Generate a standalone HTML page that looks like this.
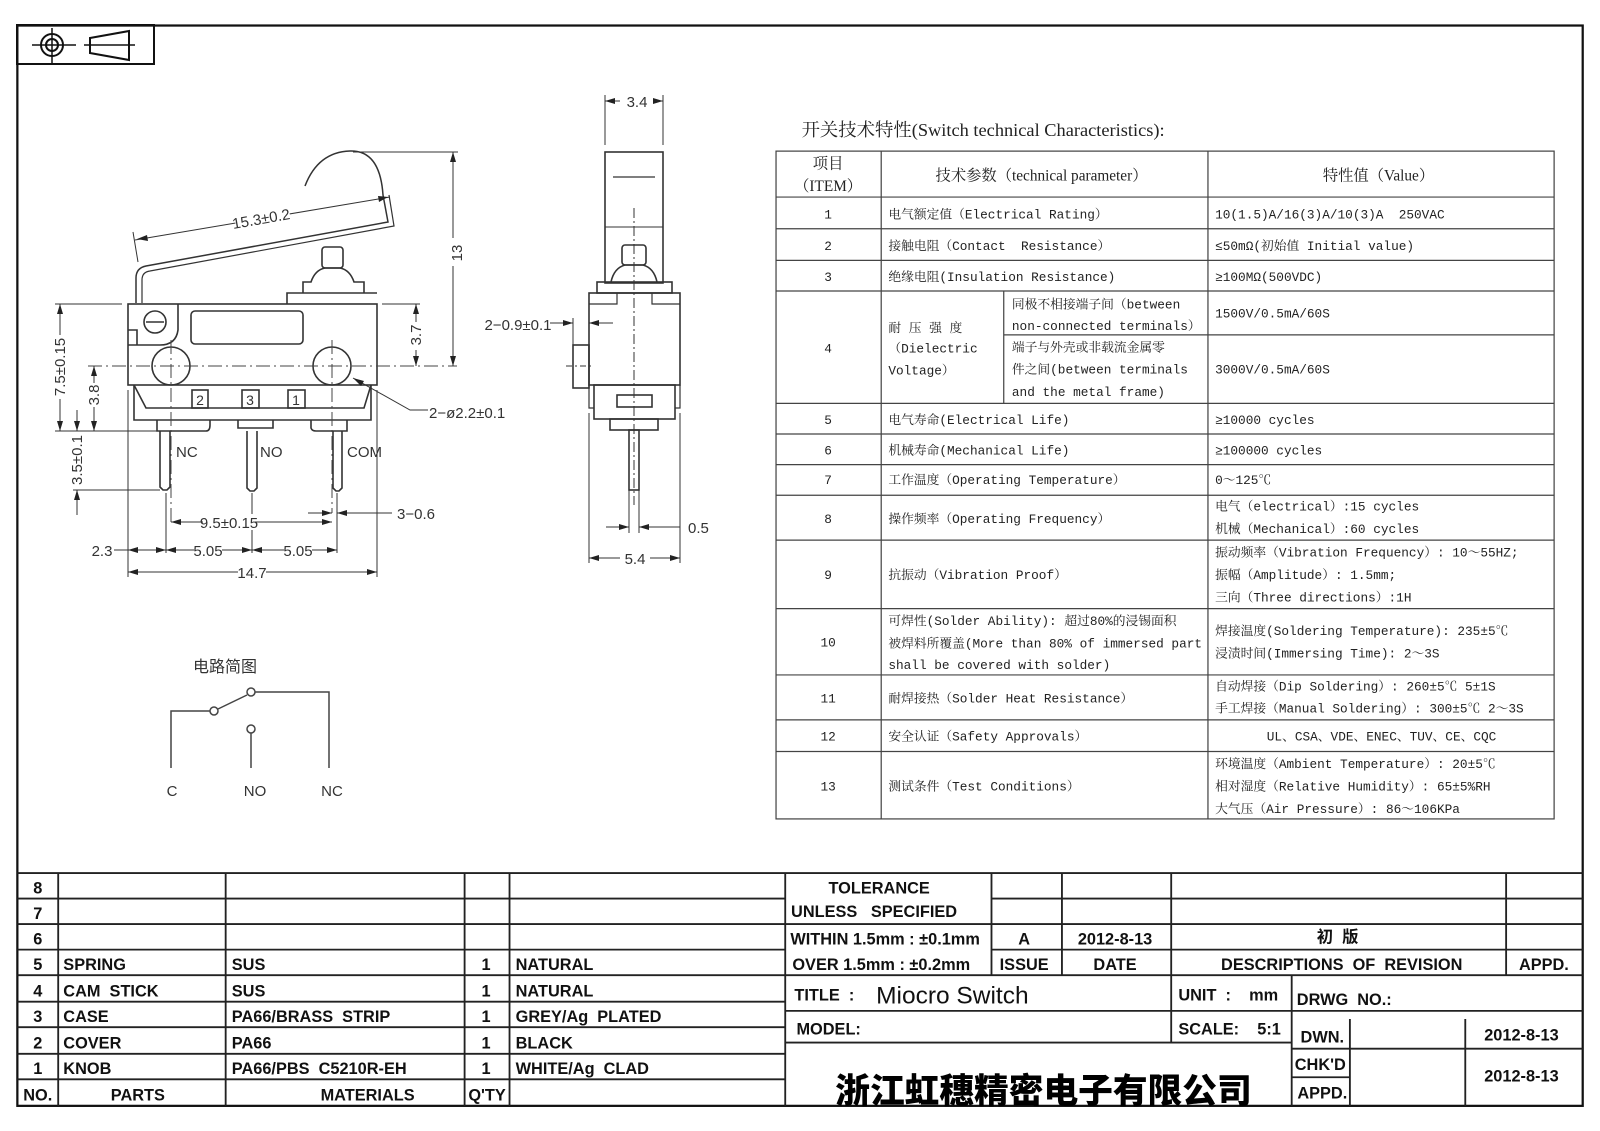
<!DOCTYPE html>
<html><head><meta charset="utf-8"><style>
html,body{margin:0;padding:0;background:#fff;}
svg{display:block}
text{white-space:pre}
.t{font-family:"Liberation Mono","Noto Serif CJK SC",monospace;font-size:12.5px;fill:#222}
.b{font-family:"Liberation Sans Narrow","Liberation Sans","Noto Sans CJK SC",sans-serif;font-weight:bold;font-size:16px;fill:#111}
.d{font-family:"Liberation Sans Narrow","Liberation Sans",sans-serif;font-size:15px;fill:#333}
</style></head><body>
<svg width="1600" height="1131" viewBox="0 0 1600 1131" xmlns="http://www.w3.org/2000/svg" xml:space="preserve">
<rect width="1600" height="1131" fill="#fff"/>
<g stroke="#111" stroke-width="2" fill="none">
<rect x="17" y="25" width="137" height="39"/>
<circle cx="52" cy="45" r="11"/><circle cx="52" cy="45" r="6"/>
<line x1="32" y1="45" x2="76" y2="45" stroke-width="1.5"/><line x1="52" y1="28" x2="52" y2="63" stroke-width="1.5"/>
<path d="M90 38 L129 31 L129 60 L90 53 Z"/><line x1="84" y1="45" x2="135" y2="45" stroke-width="1.5"/>
</g>
<g stroke="#444" stroke-width="1.5" fill="none">
<path d="M171 768 V711 H210"/><circle cx="214" cy="711" r="4"/>
<line x1="218" y1="709" x2="247" y2="695"/><circle cx="251" cy="692" r="4"/>
<path d="M255 692 H329 V768"/><circle cx="251" cy="729" r="4"/><line x1="251" y1="733" x2="251" y2="768"/>
</g>
<g class="d" text-anchor="middle"><text x="225" y="672" style="font-family:'Noto Sans CJK SC',sans-serif;font-size:16px">电路简图</text>
<text x="172" y="796">C</text><text x="255" y="796">NO</text><text x="332" y="796">NC</text></g>

<g stroke="#333" stroke-width="1.6" fill="none">
<path d="M136 303 V278 Q136 268 146 266 L388 222 L383 195 Q380 150 350 151 Q318 152 305 186" stroke-width="1.5"/>
<path d="M142 303 V280 Q142 272 150 271 L394 226 L389 195" stroke-width="1.2"/>
<rect x="322" y="247" width="21" height="21" rx="3"/>
<path d="M303 293 V282 H311 Q315 270 325 268 H340 Q350 270 354 282 H364 V293"/>
<path d="M287 304 V293 H377"/>
<rect x="128" y="304" width="249" height="81"/>
<path d="M128 330 H137 V345"/>
<path d="M178 304 V330 Q176 345 160 345 H128"/>
<circle cx="155" cy="322" r="11"/><line x1="146" y1="322" x2="164" y2="322"/>
<rect x="191" y="311" width="112" height="33" rx="4"/>
<circle cx="171" cy="366" r="19"/><circle cx="332" cy="366" r="19"/>
<path d="M134 385 V420 H371 V385"/>
<path d="M134 385 L146 408 H364 L371 385"/>
<rect x="192" y="390" width="16" height="18"/><rect x="242" y="390" width="17" height="18"/><rect x="288" y="390" width="17" height="18"/>
<path d="M157 420 V431 H206 Q210 431 210 425 V420"/>
<path d="M238 420 V428 H273 V420"/>
<path d="M311 420 V428 Q312 431 316 431 H347 V420"/>
<path d="M160 431 V487 L163 490 H167 L170 487 V431"/>
<path d="M247 431 V488 L250 491 H254 L257 488 V431"/>
<path d="M333 431 V488 L336 491 H339 L342 488 V431"/>
</g>
<g class="d" text-anchor="middle" style="font-size:14px"><text x="200" y="405">2</text><text x="250" y="405">3</text><text x="296" y="405">1</text></g>
<g stroke="#444" stroke-width="1" fill="none" stroke-dasharray="14,4,2,4">
<line x1="88" y1="366" x2="457" y2="366"/><line x1="171" y1="340" x2="171" y2="523"/><line x1="332" y1="340" x2="332" y2="513"/>
</g>
<g stroke="#333" stroke-width="1" fill="none">
<line x1="353" y1="152" x2="458" y2="152"/><line x1="453" y1="152" x2="453" y2="366"/>
<line x1="55" y1="304" x2="122" y2="304"/><line x1="382" y1="304" x2="420" y2="304"/>
<line x1="416" y1="304" x2="416" y2="366"/>
<line x1="60" y1="304" x2="60" y2="431"/><line x1="94" y1="366" x2="94" y2="431"/>
<line x1="55" y1="431" x2="157" y2="431"/><line x1="73" y1="490" x2="160" y2="490"/>
<line x1="77" y1="410" x2="77" y2="431"/><line x1="77" y1="490" x2="77" y2="515"/>
<line x1="128" y1="390" x2="128" y2="577"/><line x1="377" y1="390" x2="377" y2="577"/>
<line x1="166" y1="493" x2="166" y2="553"/><line x1="252" y1="493" x2="252" y2="553"/><line x1="337" y1="493" x2="337" y2="553"/>
<line x1="171" y1="522" x2="332" y2="522"/>
<line x1="308" y1="513" x2="332" y2="513"/><line x1="337" y1="513" x2="392" y2="513"/>
<line x1="114" y1="550" x2="337" y2="550"/>
<line x1="128" y1="572" x2="377" y2="572"/>
<line x1="135" y1="240" x2="390" y2="197"/><line x1="133" y1="232" x2="138" y2="262"/>
<path d="M353 378 L410 410 H428"/>
</g>
<g fill="#222">
<path d="M453 152 l-3 10 h6z"/><path d="M453 366 l-3 -10 h6z"/>
<path d="M416 304 l-3 10 h6z"/><path d="M416 366 l-3 -10 h6z"/>
<path d="M60 304 l-3 10 h6z"/><path d="M60 431 l-3 -10 h6z"/>
<path d="M94 366 l-3 10 h6z"/><path d="M94 431 l-3 -10 h6z"/>
<path d="M77 431 l-3 -10 h6z"/><path d="M77 490 l-3 10 h6z"/>
<path d="M171 522 l10 -3 v6z"/><path d="M332 522 l-10 -3 v6z"/>
<path d="M332 513 l-10 -3 v6z"/><path d="M337 513 l10 -3 v6z"/>
<path d="M128 550 l10 -3 v6z"/><path d="M166 550 l-10 -3 v6z"/><path d="M166 550 l10 -3 v6z"/>
<path d="M252 550 l-10 -3 v6z"/><path d="M252 550 l10 -3 v6z"/><path d="M337 550 l-10 -3 v6z"/>
<path d="M128 572 l10 -3 v6z"/><path d="M377 572 l-10 -3 v6z"/>
<path d="M137 239 l10 -4 l1 6z"/><path d="M388 197 l-10 -1 l1 6z"/>
<path d="M353 378 l8 8 l3 -5z"/>
</g>
<g class="d">
<rect x="440" y="238" width="20" height="28" fill="#fff"/>
<text transform="translate(462,253) rotate(-90)" text-anchor="middle">13</text>
<rect x="405" y="322" width="20" height="28" fill="#fff"/>
<text transform="translate(421,335) rotate(-90)" text-anchor="middle">3.7</text>
<rect x="50" y="335" width="20" height="64" fill="#fff"/>
<text transform="translate(65,367) rotate(-90)" text-anchor="middle">7.5±0.15</text>
<rect x="85" y="383" width="20" height="24" fill="#fff"/>
<text transform="translate(99,395) rotate(-90)" text-anchor="middle">3.8</text>
<rect x="68" y="440" width="20" height="40" fill="#fff"/>
<text transform="translate(82,460) rotate(-90)" text-anchor="middle">3.5±0.1</text>
<rect x="235" y="208" width="55" height="20" fill="#fff" transform="rotate(-10 262 218)"/>
<text transform="translate(262,224) rotate(-10)" text-anchor="middle">15.3±0.2</text>
<text x="176" y="457" style="font-family:'Liberation Sans',sans-serif">NC</text>
<text x="260" y="457" style="font-family:'Liberation Sans',sans-serif">NO</text>
<text x="347" y="457" style="font-family:'Liberation Sans',sans-serif">COM</text>
<text x="429" y="418">2−ø2.2±0.1</text>
<rect x="203" y="514" width="52" height="16" fill="#fff"/><text x="229" y="528" text-anchor="middle">9.5±0.15</text>
<text x="397" y="519">3−0.6</text>
<text x="102" y="556" text-anchor="middle">2.3</text>
<rect x="194" y="542" width="28" height="16" fill="#fff"/><text x="208" y="556" text-anchor="middle">5.05</text>
<rect x="284" y="542" width="28" height="16" fill="#fff"/><text x="298" y="556" text-anchor="middle">5.05</text>
<rect x="238" y="564" width="28" height="16" fill="#fff"/><text x="252" y="578" text-anchor="middle">14.7</text>
</g>

<g stroke="#333" stroke-width="1.6" fill="none">
<rect x="605" y="152" width="58" height="131"/>
<line x1="613" y1="177" x2="655" y2="177" stroke-width="1.2"/>
<line x1="605" y1="227" x2="663" y2="227" stroke-width="1"/>
<rect x="622" y="245" width="24" height="20" rx="3"/>
<path d="M611 282 Q614 268 625 265 H643 Q654 268 657 282"/>
<rect x="597" y="282" width="75" height="11"/>
<rect x="589" y="293" width="91" height="92"/>
<path d="M589 304 H617 V293 M680 304 H652 V293" stroke-width="1.2"/>
<rect x="573" y="345" width="16" height="43"/>
<rect x="594" y="385" width="81" height="34"/>
<path d="M589 385 V408 H594 M680 385 V408 H675" stroke-width="1.2"/>
<rect x="617" y="395" width="35" height="12"/>
<rect x="610" y="419" width="48" height="11"/>
<rect x="629" y="430" width="10" height="60"/>
</g>
<g stroke="#333" stroke-width="1" fill="none">
<line x1="634" y1="208" x2="634" y2="505" stroke-dasharray="10,3,2,3"/>
<line x1="566" y1="366" x2="594" y2="366" stroke-dasharray="6,3,2,3"/>
<line x1="605" y1="95" x2="605" y2="145"/><line x1="663" y1="95" x2="663" y2="145"/>
<line x1="605" y1="101" x2="620" y2="101"/><line x1="655" y1="101" x2="663" y2="101"/>
<line x1="550" y1="323" x2="573" y2="323"/><line x1="589" y1="323" x2="613" y2="323"/>
<line x1="573" y1="318" x2="573" y2="345"/>
<line x1="629" y1="490" x2="629" y2="533"/><line x1="639" y1="490" x2="639" y2="533"/>
<line x1="606" y1="527" x2="629" y2="527"/><line x1="639" y1="527" x2="680" y2="527"/>
<line x1="589" y1="413" x2="589" y2="563"/><line x1="680" y1="413" x2="680" y2="563"/>
<line x1="589" y1="558" x2="620" y2="558"/><line x1="650" y1="558" x2="680" y2="558"/>
</g>
<g fill="#222">
<path d="M605 101 l10 -3 v6z"/><path d="M663 101 l-10 -3 v6z"/>
<path d="M573 323 l-10 -3 v6z"/><path d="M589 323 l10 -3 v6z"/>
<path d="M629 527 l-10 -3 v6z"/><path d="M639 527 l10 -3 v6z"/>
<path d="M589 558 l10 -3 v6z"/><path d="M680 558 l-10 -3 v6z"/>
</g>
<g class="d">
<text x="637" y="107" text-anchor="middle">3.4</text>
<text x="518" y="330" text-anchor="middle">2−0.9±0.1</text>
<text x="688" y="533">0.5</text>
<text x="635" y="564" text-anchor="middle">5.4</text>
</g>

<g transform="scale(1.0211)">
<rect x="17" y="25" width="1533" height="1058" fill="none" stroke="#111" stroke-width="2.2"/>
<text x="785" y="133" style="font-family:'Liberation Serif','Noto Serif CJK SC',serif;font-size:18px" fill="#222">开关技术特性(Switch technical Characteristics):</text>
<g stroke="#444" stroke-width="1.2" fill="none">
<rect x="760" y="148" width="762" height="654"/>
<line x1="863" y1="148" x2="863" y2="802"/><line x1="1183" y1="148" x2="1183" y2="802"/>
<line x1="983" y1="285" x2="983" y2="395"/><line x1="983" y1="328" x2="1522" y2="328"/>
<path d="M760 193H1522M760 224H1522M760 255H1522M760 285H1522M760 395H1522M760 425H1522M760 455H1522M760 485H1522M760 529H1522M760 596H1522M760 661H1522M760 705H1522M760 736H1522"/>
</g>
<g class="t">
<g text-anchor="middle" style="font-size:15px;font-family:'Liberation Serif','Noto Serif CJK SC',serif">
<text x="811" y="165">项目</text><text x="811" y="187">（ITEM）</text>
<text x="1020" y="177">技术参数（technical parameter）</text>
<text x="1350" y="177">特性值（Value）</text>
</g>
<g text-anchor="middle">
<text x="811" y="214">1</text><text x="811" y="245">2</text><text x="811" y="275">3</text><text x="811" y="345">4</text>
<text x="811" y="415">5</text><text x="811" y="445">6</text><text x="811" y="474">7</text><text x="811" y="512">8</text>
<text x="811" y="567">9</text><text x="811" y="633">10</text><text x="811" y="688">11</text><text x="811" y="725">12</text><text x="811" y="774">13</text>
</g>
<text x="870" y="214">电气额定值（Electrical Rating）</text>
<text x="870" y="245">接触电阻（Contact  Resistance）</text>
<text x="870" y="275">绝缘电阻(Insulation Resistance)</text>
<text x="870" y="325">耐 压 强 度</text><text x="870" y="345">（Dielectric</text><text x="870" y="367">Voltage）</text>
<text x="991" y="302">同极不相接端子间（between</text><text x="991" y="323">non-connected terminals）</text>
<text x="991" y="344">端子与外壳或非载流金属零</text><text x="991" y="366">件之间(between terminals</text><text x="991" y="388">and the metal frame)</text>
<text x="870" y="415">电气寿命(Electrical Life)</text>
<text x="870" y="445">机械寿命(Mechanical Life)</text>
<text x="870" y="474">工作温度（Operating Temperature）</text>
<text x="870" y="512">操作频率（Operating Frequency）</text>
<text x="870" y="567">抗振动（Vibration Proof）</text>
<text x="870" y="612">可焊性(Solder Ability): 超过80%的浸锡面积</text>
<text x="870" y="634">被焊料所覆盖(More than 80% of immersed part</text>
<text x="870" y="655">shall be covered with solder)</text>
<text x="870" y="688">耐焊接热（Solder Heat Resistance）</text>
<text x="870" y="725">安全认证（Safety Approvals）</text>
<text x="870" y="774">测试条件（Test Conditions）</text>
<text x="1190" y="214">10(1.5)A/16(3)A/10(3)A  250VAC</text>
<text x="1190" y="245">≤50mΩ(初始值 Initial value)</text>
<text x="1190" y="275">≥100MΩ(500VDC)</text>
<text x="1190" y="311">1500V/0.5mA/60S</text>
<text x="1190" y="366">3000V/0.5mA/60S</text>
<text x="1190" y="415">≥10000 cycles</text>
<text x="1190" y="445">≥100000 cycles</text>
<text x="1190" y="474">0～125℃</text>
<text x="1190" y="500">电气（electrical）:15 cycles</text>
<text x="1190" y="522">机械（Mechanical）:60 cycles</text>
<text x="1190" y="545">振动频率（Vibration Frequency）: 10～55HZ;</text>
<text x="1190" y="567">振幅（Amplitude）: 1.5mm;</text>
<text x="1190" y="589">三向（Three directions）:1H</text>
<text x="1190" y="622">焊接温度(Soldering Temperature): 235±5℃</text>
<text x="1190" y="644">浸渍时间(Immersing Time): 2～3S</text>
<text x="1190" y="676">自动焊接（Dip Soldering）: 260±5℃ 5±1S</text>
<text x="1190" y="698">手工焊接（Manual Soldering）: 300±5℃ 2～3S</text>
<text x="1353" y="725" text-anchor="middle">UL、CSA、VDE、ENEC、TUV、CE、CQC</text>
<text x="1190" y="752">环境温度（Ambient Temperature）: 20±5℃</text>
<text x="1190" y="774">相对湿度（Relative Humidity）: 65±5%RH</text>
<text x="1190" y="796">大气压（Air Pressure）: 86～106KPa</text>
</g>

<g stroke="#222" stroke-width="1.8" fill="none">
<line x1="17" y1="855" x2="1550" y2="855"/>
<path d="M17 880H769M17 905H1550M17 930H769M17 955H1550M17 981H769M17 1006H769M17 1032H769M17 1057H769"/>
<path d="M57 855V1083M221 855V1083M455 855V1083M499 855V1083M769 855V1083"/>
<path d="M971 880H1550M971 930H1550M971 855V955M1040 855V955M1147 855V955M1475 855V955"/>
<path d="M769 990H1550M769 1021H1265M1265 1027H1550M1265 1055H1322"/>
<path d="M1147 955V1021M1265 955V1083M1322 998V1083M1435 998V1083"/>
</g>
<g class="b">
<g text-anchor="middle"><text x="37" y="875">8</text><text x="37" y="900">7</text><text x="37" y="925">6</text><text x="37" y="950">5</text><text x="37" y="976">4</text><text x="37" y="1001">3</text><text x="37" y="1027">2</text><text x="37" y="1052">1</text><text x="37" y="1078">NO.</text>
<text x="476" y="950">1</text><text x="476" y="976">1</text><text x="476" y="1001">1</text><text x="476" y="1027">1</text><text x="476" y="1052">1</text><text x="477" y="1078">Q'TY</text>
<text x="135" y="1078">PARTS</text><text x="360" y="1078">MATERIALS</text></g>
<text x="62" y="950">SPRING</text><text x="62" y="976">CAM  STICK</text><text x="62" y="1001">CASE</text><text x="62" y="1027">COVER</text><text x="62" y="1052">KNOB</text>
<text x="227" y="950">SUS</text><text x="227" y="976">SUS</text><text x="227" y="1001">PA66/BRASS  STRIP</text><text x="227" y="1027">PA66</text><text x="227" y="1052">PA66/PBS  C5210R-EH</text>
<text x="505" y="950">NATURAL</text><text x="505" y="976">NATURAL</text><text x="505" y="1001">GREY/Ag  PLATED</text><text x="505" y="1027">BLACK</text><text x="505" y="1052">WHITE/Ag  CLAD</text>
<g text-anchor="middle"><text x="861" y="875">TOLERANCE</text><text x="856" y="898">UNLESS   SPECIFIED</text>
<text x="1003" y="925">A</text><text x="1092" y="925">2012-8-13</text><text x="1310" y="923">初  版</text>
<text x="1003" y="950">ISSUE</text><text x="1092" y="950">DATE</text><text x="1314" y="950">DESCRIPTIONS  OF  REVISION</text><text x="1512" y="950">APPD.</text>
<text x="1295" y="1021">DWN.</text><text x="1293" y="1048">CHK'D</text><text x="1295" y="1076">APPD.</text>
<text x="1490" y="1019">2012-8-13</text><text x="1490" y="1059">2012-8-13</text></g>
<text x="774" y="925">WITHIN 1.5mm : ±0.1mm</text>
<text x="776" y="950">OVER 1.5mm : ±0.2mm</text>
<text x="778" y="980">TITLE  :</text>
<text x="780" y="1013">MODEL:</text>
<text x="1154" y="980">UNIT  :    mm</text>
<text x="1154" y="1013">SCALE:    5:1</text>
<text x="1270" y="984">DRWG  NO.:</text>
</g>
<text x="858" y="983" style="font-family:'Liberation Sans',sans-serif;font-size:24px" fill="#111">Miocro Switch</text>
<text x="818" y="1080" style="font-family:'Noto Sans CJK SC',sans-serif;font-weight:900;font-size:34px" fill="#000">浙江虹穗精密电子有限公司</text>
</g>
</svg>
</body></html>
